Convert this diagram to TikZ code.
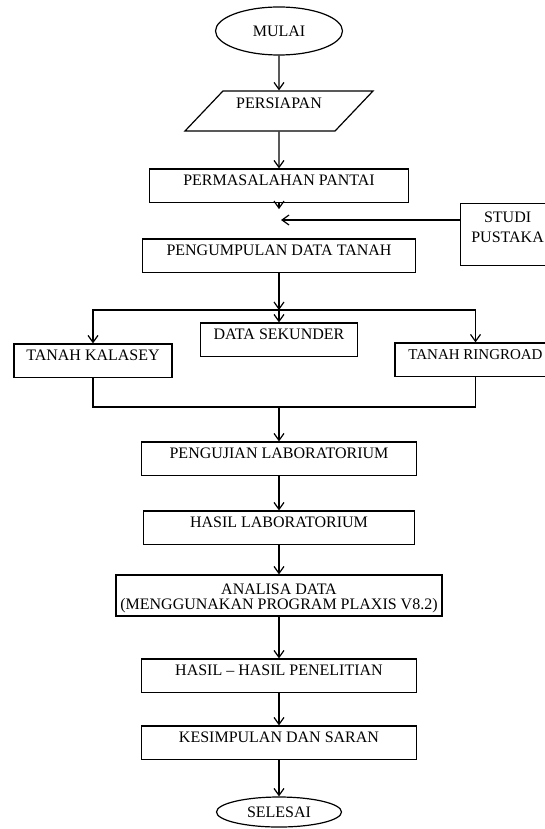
\documentclass[tikz,border=0pt]{standalone}
\usepackage{fontspec}
\setmainfont{Liberation Serif}
\usetikzlibrary{shapes.geometric, positioning, arrows.meta}

\tikzset{
  every node/.style={font=\fontsize{16}{15}\selectfont},
  box/.style={draw, rectangle, line width=1.2pt, inner xsep=2pt, inner ysep=0pt,
    text height=16.5pt, text depth=17pt},
  twoline/.style={box, align=center},
  term/.style={draw, ellipse, line width=1.2pt, inner sep=0pt},
  io/.style={draw, trapezium, trapezium left angle=46.5, trapezium right angle=133.5,
    trapezium stretches body, line width=1.2pt, inner xsep=2pt, inner ysep=0pt},
  link/.style={line width=1.2pt},
  arr/.style={link, -{Straight Barb[length=7pt,width=10pt]}}
}

\begin{document}
\begin{tikzpicture}[x=1pt, y=-1pt]
   \useasboundingbox (0,0) rectangle (544,829);
   % main column
   \node[term, minimum width=127pt, minimum height=48pt] (mulai) at (279,31) {MULAI};
   \node[io, minimum width=188pt, minimum height=40pt, text height=17.3pt, text depth=22.7pt]
        (persiapan) [below=34.8pt of mulai] {PERSIAPAN};
   \node[box, minimum width=259pt] (permasalahan) [below=36.8pt of persiapan] {PERMASALAHAN PANTAI};
   \node[box, minimum width=273pt] (pengumpulan) [below=35.3pt of permasalahan] {PENGUMPULAN DATA TANAH};
   \node[twoline, minimum width=94pt, text height=39.3pt, text depth=22.7pt,
        font=\fontsize{16}{20}\selectfont, anchor=north west] (studi) at (460,203) {STUDI\\PUSTAKA};
   \coordinate (studiend) at (281,220);
   \coordinate[below=6pt of permasalahan] (stub);
   % branches
   \coordinate[below=36.9pt of pengumpulan] (split);
   \node[box, minimum width=157pt] (sekunder) [below=49.3pt of pengumpulan] {DATA SEKUNDER};
   \node[box, minimum width=158pt, anchor=north] (kalasey) at (93,343.4) {TANAH KALASEY};
   \node[box, minimum width=161pt, anchor=north, font=\fontsize{15}{15}\selectfont]
        (ringroad) at (475.5,342.4) {TANAH RINGROAD};
   \coordinate[below=49.9pt of sekunder] (merge);
   \node[box, minimum width=275pt] (pengujian) [below=34.4pt of merge] {PENGUJIAN LABORATORIUM};
   \node[box, minimum width=271pt] (hasillab) [below=34.3pt of pengujian] {HASIL LABORATORIUM};
   \node[twoline, minimum width=326pt, text height=34.3pt, text depth=6.7pt]
        (analisa) [below=29.3pt of hasillab] {ANALISA DATA\\(MENGGUNAKAN PROGRAM PLAXIS V8.2)};
   \node[box, minimum width=275pt] (hasil) [below=41.8pt of analisa] {HASIL -- HASIL PENELITIAN};
   \node[box, minimum width=275pt] (kesimpulan) [below=32.3pt of hasil] {KESIMPULAN DAN SARAN};
   \node[term, minimum width=125pt, minimum height=30pt] (selesai) [below=36.3pt of kesimpulan] {SELESAI};

   \draw[arr] (mulai) -- (persiapan);
   \draw[arr] (persiapan) -- (permasalahan);
   \draw[arr] (permasalahan) -- (stub);
   \draw[arr] (studi.west |- studiend) -- (studiend);
   \draw[arr] (pengumpulan) -- (split);
   \draw[arr] (split) -- (sekunder);
   \draw[arr] (split) -| (kalasey.north);
   \draw[arr] (split) -| (ringroad.north);
   \draw[link] (kalasey.south) |- (merge) -| (ringroad.south);
   \draw[arr] (merge) -- (pengujian);
   \draw[arr] (pengujian) -- (hasillab);
   \draw[arr] (hasillab) -- (analisa);
   \draw[arr] (analisa) -- (hasil);
   \draw[arr] (hasil) -- (kesimpulan);
   \draw[arr] (kesimpulan) -- (selesai);
\end{tikzpicture}
\end{document}
